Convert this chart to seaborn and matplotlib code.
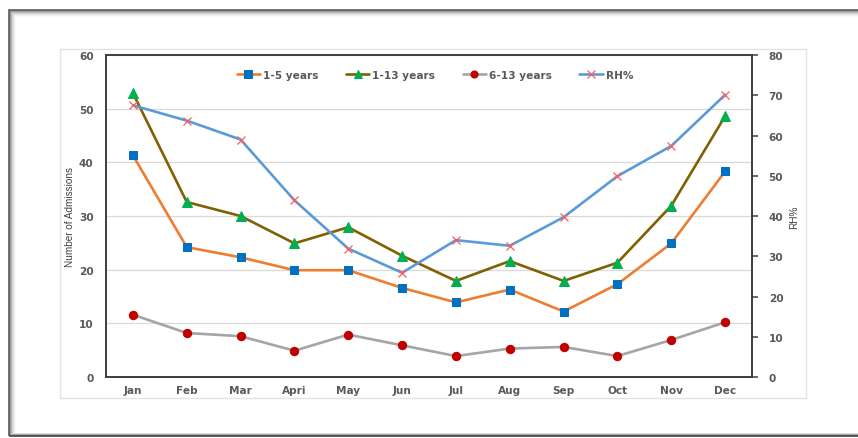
import matplotlib
matplotlib.use("Agg")
import matplotlib.pyplot as plt
from matplotlib.patches import Rectangle
import seaborn as sns
import pandas as pd

# Monthly admissions by age group and relative humidity
months = ["Jan", "Feb", "Mar", "Apri", "May", "Jun", "Jul", "Aug", "Sep", "Oct", "Nov", "Dec"]
age_1_5 = [41.3, 24.2, 22.3, 19.9, 19.9, 16.6, 13.9, 16.3, 12.2, 17.3, 24.9, 38.3]
age_1_13 = [52.9, 32.6, 30.0, 24.9, 27.9, 22.6, 17.9, 21.6, 17.9, 21.3, 31.9, 48.6]
age_6_13 = [11.6, 8.2, 7.6, 4.9, 7.9, 5.9, 3.9, 5.3, 5.6, 3.9, 6.9, 10.2]
rh_pct = [67.5, 63.7, 59.0, 43.9, 31.9, 25.9, 34.0, 32.6, 39.7, 49.9, 57.4, 70.1]

left_ticks = [0, 10, 20, 30, 40, 50, 60]
right_ticks = [0, 10, 20, 30, 40, 50, 60, 70, 80]

df = pd.DataFrame({
    "month": months,
    "1-5 years": age_1_5,
    "1-13 years": age_1_13,
    "6-13 years": age_6_13,
    "RH%": rh_pct,
})

sns.set_style("white")
plt.rcParams["font.family"] = ["DejaVu Sans"]

W, H = 858, 439
fig = plt.figure(figsize=(W / 100, H / 100), dpi=100)
fig.patch.set_facecolor("white")


def fx(px):
    return px / W


def fy(py):
    return 1 - py / H


# Outer frame with a soft shadow along its inner edge
for i, a in enumerate([0.9, 0.45, 0.3, 0.2, 0.12, 0.06, 0.03]):
    fig.add_artist(Rectangle((fx(9 + i), fy(437 - i * 0.4)), fx(900), fy(11 + i) - fy(437 - i * 0.4),
                             transform=fig.transFigure, fill=False,
                             edgecolor="#3a3a3a", alpha=a, lw=1.1, zorder=-2))

# Chart area panel
fig.add_artist(Rectangle((fx(60), fy(399)), fx(806) - fx(60), fy(50) - fy(399),
                         transform=fig.transFigure, facecolor="white",
                         edgecolor="#e3e3e3", lw=1.0, zorder=-1))

ax = fig.add_axes([fx(106), fy(378), fx(752) - fx(106), fy(56) - fy(378)])
ax.set_facecolor("none")
ax2 = ax.twinx()

text_color = "#595959"
spine_color = "#404040"
fs = 7.6

styles = [
    ("1-5 years", "#ED7D31", "s", "#0070C0", 6.0),
    ("1-13 years", "#806000", "^", "#00B050", 6.5),
    ("6-13 years", "#A5A5A5", "o", "#C00000", 6.0),
]
for name, lc, mk, mc, ms in styles:
    sns.lineplot(data=df, x="month", y=name, ax=ax, color=lc, lw=1.9,
                 marker=mk, markersize=ms, markerfacecolor=mc,
                 markeredgecolor=mc, label=name, legend=False, sort=False)

sns.lineplot(data=df, x="month", y="RH%", ax=ax2, color="#5B9BD5", lw=1.9,
             marker="x", markersize=6, markeredgecolor="#FF5B5B",
             markeredgewidth=0.9, label="RH%", legend=False, sort=False)

ax.set_ylim(0, 60)
ax.set_yticks(left_ticks)
ax2.set_ylim(0, 80)
ax2.set_yticks(right_ticks)
ax.set_xlim(-0.5, len(months) - 0.5)

ax.grid(axis="y", color="#d9d9d9", lw=0.9)
ax.grid(axis="x", visible=False)
ax2.grid(False)

for a in (ax, ax2):
    for s in a.spines.values():
        s.set_color(spine_color)
        s.set_linewidth(1.3)
        s.set_visible(True)

ax.tick_params(axis="y", length=0, pad=9, labelsize=fs, labelcolor=text_color)
ax.tick_params(axis="x", length=0, pad=6, labelsize=fs, labelcolor=text_color)
ax2.tick_params(axis="y", direction="out", length=4, width=1.1, color=spine_color,
                pad=8, labelsize=fs, labelcolor=text_color)
for lab in ax.get_xticklabels() + ax.get_yticklabels() + ax2.get_yticklabels():
    lab.set_fontweight("bold")

ax.set_xlabel("")
ax.set_ylabel("Number of Admissions", fontsize=7.2, color="#404040",
              family="Liberation Sans", labelpad=3)
ax2.set_ylabel("RH%", fontsize=7.2, color="#404040", family="Liberation Sans",
               labelpad=4, rotation=90)

handles = ax.get_lines()[:3] + ax2.get_lines()[:1]
labels = ["1-5 years", "1-13 years", "6-13 years", "RH%"]
leg = ax2.legend(handles, labels, ncol=4, loc="center",
                 bbox_to_anchor=((435 - 106) / 646, (378 - 76) / 322),
                 frameon=False, handlelength=2.2, handletextpad=0.3,
                 columnspacing=2.6, markerscale=0.85,
                 prop={"size": fs, "weight": "bold"})
for t in leg.get_texts():
    t.set_color(text_color)

fig.savefig("out.png", dpi=100)
